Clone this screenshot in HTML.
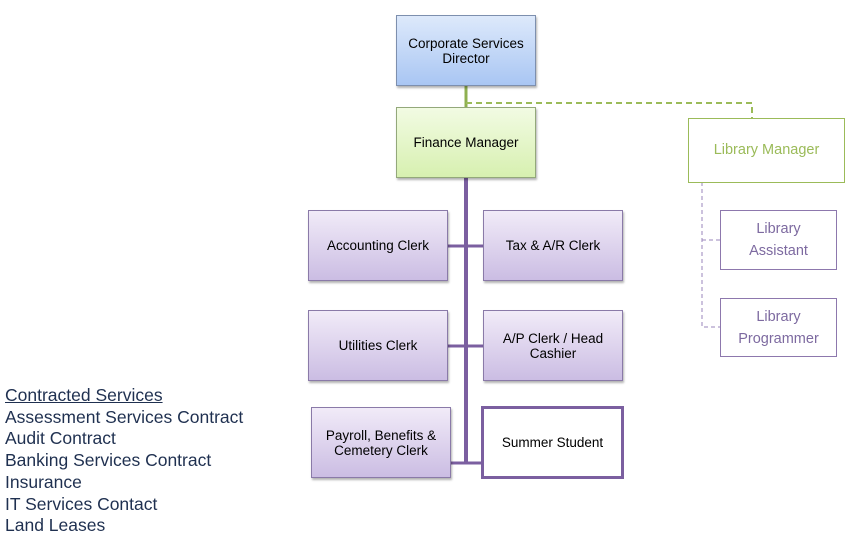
<!DOCTYPE html>
<html><head><meta charset="utf-8"><style>
body{margin:0;width:867px;height:554px;background:#fff;position:relative;overflow:hidden;font-family:"Liberation Sans",sans-serif}
.b{position:absolute;box-sizing:border-box;display:flex;align-items:center;justify-content:center;text-align:center;font-size:13.5px;line-height:15px;color:#000}
.p{background:linear-gradient(#f1ebf8,#cbbde3);border:1px solid #8a7aa8;box-shadow:1px 2px 2px rgba(0,0,0,.3)}
.l{position:absolute;background:#7b5fa0}
.list{position:absolute;left:5px;top:385px;font-size:17.5px;line-height:21.7px;color:#1f3050}
</style></head><body>
<svg style="position:absolute;left:0;top:0" width="867" height="554">
<line x1="466" y1="85" x2="466" y2="107" stroke="#8fb050" stroke-width="3"/>
<path d="M466 103 H752 V118" fill="none" stroke="#9bbb59" stroke-width="2" stroke-dasharray="6,4"/>
<path d="M702 182 V327 H720 M702 240 H720" fill="none" stroke="#9a85bb" stroke-width="1" stroke-dasharray="4,3"/>
<line x1="466" y1="178" x2="466" y2="463" stroke="#7b5fa0" stroke-width="4"/>
<line x1="448" y1="246" x2="483" y2="246" stroke="#7b5fa0" stroke-width="3"/>
<line x1="448" y1="346" x2="483" y2="346" stroke="#7b5fa0" stroke-width="3"/>
<line x1="451" y1="463" x2="483" y2="463" stroke="#7b5fa0" stroke-width="3"/>
</svg>
<div class="b" style="left:396px;top:15px;width:140px;height:71px;background:linear-gradient(#dde9fb,#a9c6f3);border:1px solid #7d8fae;box-shadow:1px 2px 2px rgba(0,0,0,.3)">Corporate Services<br>Director</div>
<div class="b" style="left:396px;top:107px;width:140px;height:71px;background:linear-gradient(#f2fbe3,#d7f0b0);border:1px solid #93a87a;box-shadow:1px 2px 2px rgba(0,0,0,.3)">Finance Manager</div>
<div class="b p" style="left:308px;top:210px;width:140px;height:71px">Accounting Clerk</div>
<div class="b p" style="left:483px;top:210px;width:140px;height:71px">Tax &amp; A/R Clerk</div>
<div class="b p" style="left:308px;top:310px;width:140px;height:71px">Utilities Clerk</div>
<div class="b p" style="left:483px;top:310px;width:140px;height:71px">A/P Clerk / Head<br>Cashier</div>
<div class="b p" style="left:311px;top:407px;width:140px;height:71px">Payroll, Benefits &amp;<br>Cemetery Clerk</div>
<div class="b" style="left:481px;top:406px;width:143px;height:73px;border:3px solid #7b5fa0;background:#fff">Summer Student</div>
<div class="b" style="left:688px;top:118px;width:157px;height:65px;border:1px solid #9bbb59;color:#9bbb59;font-size:14.5px">Library Manager</div>
<div class="b" style="left:720px;top:210px;width:117px;height:60px;border:1px solid #8d78ad;color:#7d6aa0;font-size:14.5px;line-height:22px">Library<br>Assistant</div>
<div class="b" style="left:720px;top:298px;width:117px;height:59px;border:1px solid #8d78ad;color:#7d6aa0;font-size:14.5px;line-height:22px">Library<br>Programmer</div>
<div class="list"><u>Contracted Services</u><br>Assessment Services Contract<br>Audit Contract<br>Banking Services Contract<br>Insurance<br>IT Services Contact<br>Land Leases</div>
</body></html>
